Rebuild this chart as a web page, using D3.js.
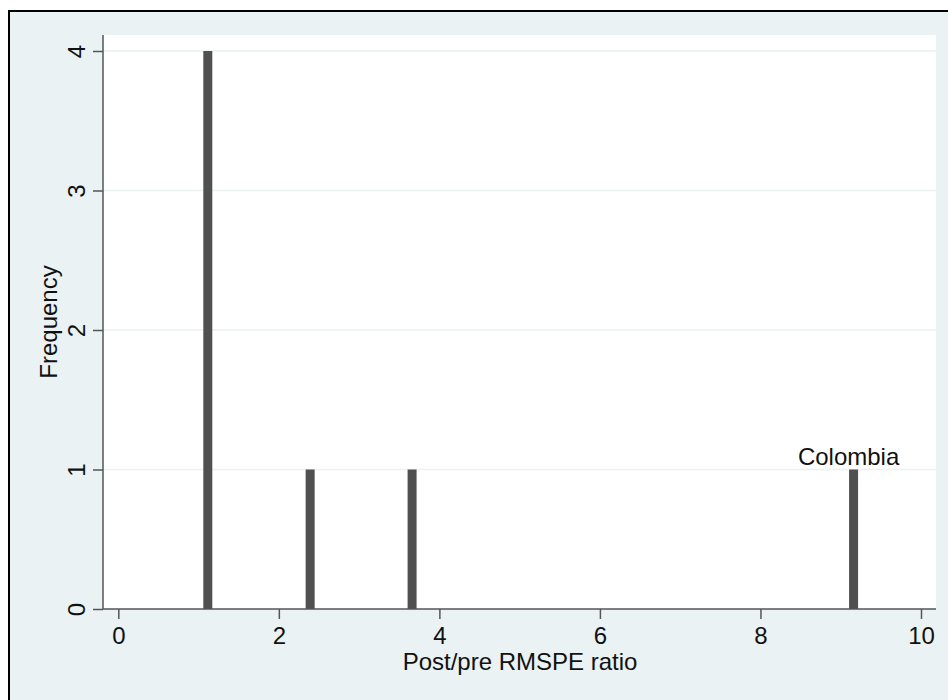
<!DOCTYPE html>
<html>
<head>
<meta charset="utf-8">
<script src="https://cdn.jsdelivr.net/npm/d3@7"></script>
<style>
  html, body { margin: 0; padding: 0; background: #ffffff; }
  svg { display: block; font-family: "Liberation Sans", Arial, sans-serif; }
</style>
</head>
<body>
<div id="chart"></div>
<script>
// ---- data ----
const ratios = [1.115, 2.39, 3.66, 9.16];
const frequencies = [4, 1, 1, 1];
const pointLabels = ["", "", "", "Colombia"];
const xTicks = [0, 2, 4, 6, 8, 10];
const yTicks = [0, 1, 2, 3, 4];
const xTitle = "Post/pre RMSPE ratio";
const yTitle = "Frequency";

const W = 948, H = 700;
const bg = "#eaf2f3";
const barColor = "#505050";
const axisColor = "#555555";
const fs = 24;

const svg = d3.select("#chart").append("svg").attr("width", W).attr("height", H);

// outer frame
svg.append("rect").attr("x", 9).attr("y", 11).attr("width", 960).attr("height", 720)
  .attr("fill", bg).attr("stroke", "#000").attr("stroke-width", 2);

// plot region
const plot = { left: 103, right: 936, top: 35, bottom: 609 };
svg.append("rect").attr("x", plot.left).attr("y", plot.top)
  .attr("width", plot.right - plot.left).attr("height", plot.bottom - plot.top)
  .attr("fill", "#ffffff");

const x = d3.scaleLinear().domain([0, 10]).range([118.3, 921]);
const y = d3.scaleLinear().domain([0, 4]).range([609, 51]);

// gridlines
svg.append("g").selectAll("line").data(yTicks.filter(d => d > 0)).join("line")
  .attr("x1", plot.left).attr("x2", plot.right)
  .attr("y1", d => y(d)).attr("y2", d => y(d))
  .attr("stroke", bg).attr("stroke-width", 1.5);

// bars
const data = ratios.map((r, i) => ({ r, f: frequencies[i], label: pointLabels[i] }));
const barW = 9;
svg.append("g").selectAll("rect").data(data).join("rect")
  .attr("x", d => x(d.r) - barW / 2).attr("width", barW)
  .attr("y", d => y(d.f)).attr("height", d => y(0) - y(d.f))
  .attr("fill", barColor);

// point labels
svg.append("g").selectAll("text").data(data.filter(d => d.label)).join("text")
  .attr("x", d => x(d.r) - 5).attr("y", d => y(d.f) - 5)
  .attr("text-anchor", "middle").attr("font-size", fs).attr("fill", "#111")
  .text(d => d.label);

// x axis
const xAxis = d3.axisBottom(x).tickValues(xTicks).tickSize(10).tickPadding(8).tickFormat(d3.format("d"));
const gx = svg.append("g").attr("transform", `translate(0,${plot.bottom})`).call(xAxis);
gx.select(".domain").remove();
gx.append("line").attr("x1", plot.left).attr("x2", plot.right).attr("y1", 0).attr("y2", 0)
  .attr("stroke", axisColor).attr("stroke-width", 1.5);
gx.selectAll(".tick line").attr("stroke", axisColor).attr("stroke-width", 1.5);
gx.selectAll(".tick text").attr("font-size", fs).attr("fill", "#111")
  .attr("font-family", "Liberation Sans, Arial, sans-serif");

// y axis
const yAxis = d3.axisLeft(y).tickValues(yTicks).tickSize(10).tickFormat(d3.format("d"));
const gy = svg.append("g").attr("transform", `translate(${plot.left},0)`).call(yAxis);
gy.select(".domain").remove();
gy.append("line").attr("x1", 0).attr("x2", 0).attr("y1", plot.top).attr("y2", plot.bottom)
  .attr("stroke", axisColor).attr("stroke-width", 1.5);
gy.selectAll(".tick line").attr("stroke", axisColor).attr("stroke-width", 1.5);
gy.selectAll(".tick text")
  .attr("x", null).attr("dy", null)
  .attr("transform", "translate(-18,0) rotate(-90)")
  .attr("text-anchor", "middle").attr("y", 0)
  .attr("font-size", fs).attr("fill", "#111")
  .attr("font-family", "Liberation Sans, Arial, sans-serif");

// axis titles
svg.append("text").attr("x", 520).attr("y", 670).attr("text-anchor", "middle")
  .attr("font-size", fs).attr("fill", "#111").text(xTitle);
svg.append("text").attr("transform", "translate(57,322) rotate(-90)").attr("text-anchor", "middle")
  .attr("font-size", fs).attr("fill", "#111").text(yTitle);
</script>
</body>
</html>
